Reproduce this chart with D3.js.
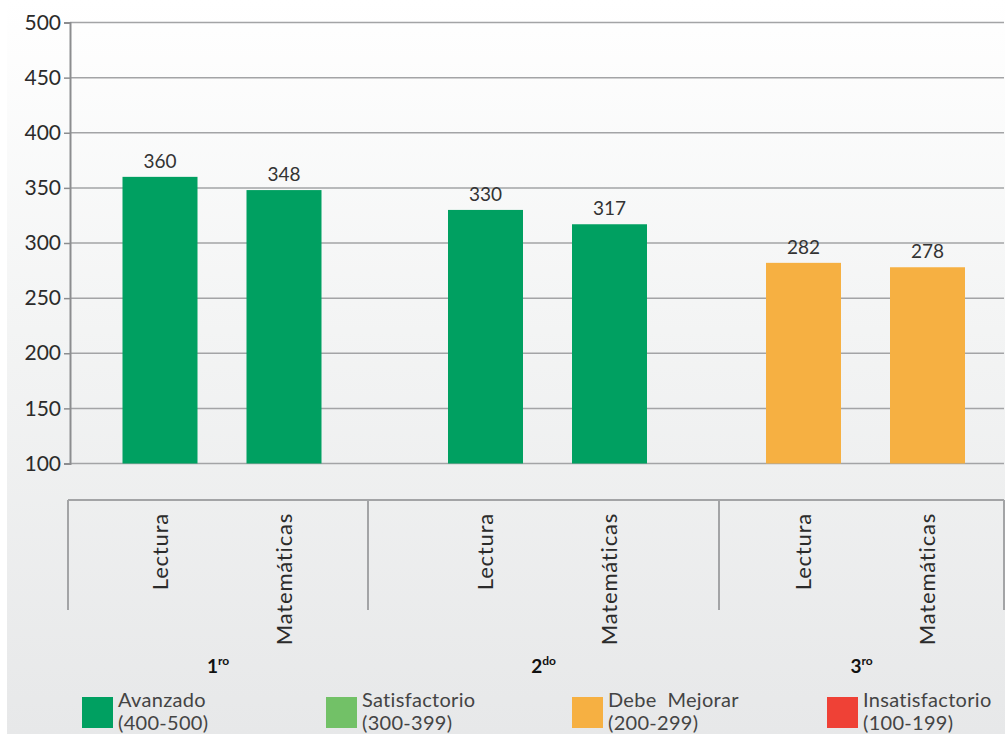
<!DOCTYPE html>
<html>
<head>
<meta charset="utf-8">
<script src="https://cdn.jsdelivr.net/npm/d3@7"></script>
<style>
  html, body { margin: 0; padding: 0; background: #fff; }
  svg { display: block; font-family: Lato, "Open Sans", sans-serif; }
</style>
</head>
<body>
<svg id="chart" width="1005" height="734"></svg>
<script>
// Grades and subjects
const grades = ["1", "2", "3"];
const gradeSuffix = ["ro", "do", "ro"];
const subjects = ["Lectura", "Matemáticas"];

// Average score for each grade/subject, in the order of grades x subjects
const scores = [360, 348, 330, 317, 282, 278];
// Performance level used to colour each bar
const barLevels = ["Avanzado", "Avanzado", "Avanzado", "Avanzado", "Debe Mejorar", "Debe Mejorar"];

// Y axis ticks
const yTicks = [100, 150, 200, 250, 300, 350, 400, 450, 500];

// Legend levels
const levels = ["Avanzado", "Satisfactorio", "Debe Mejorar", "Insatisfactorio"];
const levelRanges = ["(400-500)", "(300-399)", "(200-299)", "(100-199)"];
const levelColors = ["#00a061", "#72c167", "#f6b042", "#ef4136"];

const svg = d3.select("#chart");
const W = 1005, H = 734;

// Background: white top fading to light grey
const defs = svg.append("defs");
const grad = defs.append("linearGradient").attr("id", "bg").attr("x1", 0).attr("y1", 0).attr("x2", 0).attr("y2", 1);
grad.append("stop").attr("offset", "0%").attr("stop-color", "#ffffff");
grad.append("stop").attr("offset", "45%").attr("stop-color", "#f3f4f4");
grad.append("stop").attr("offset", "100%").attr("stop-color", "#e7e8e9");
svg.append("rect").attr("x", 7).attr("y", 0).attr("width", W - 7).attr("height", H).attr("fill", "url(#bg)");

const color = d3.scaleOrdinal().domain(levels).range(levelColors);

// Scales
const y = d3.scaleLinear().domain([100, 500]).range([463.5, 22.5]);
// group boundaries along the category axis
const gx = d3.scaleLinear().domain([0, 1, 2, 3]).range([68, 368, 719, 1004]);
// subject offset from the middle of its group, in pixels
const sx = d3.scalePoint().domain(subjects).range([-58, 66]);
const barW = 75;

const bars = [];
grades.forEach((g, gi) => subjects.forEach((s, si) => {
  const i = gi * subjects.length + si;
  bars.push({ g, gi, s, value: scores[i], level: barLevels[i] });
}));
const mid = gi => (gx(gi) + gx(gi + 1)) / 2;
const cx = d => mid(d.gi) + sx(d.s);

// Gridlines
svg.append("g").selectAll("line").data(yTicks).join("line")
  .attr("x1", 70).attr("x2", 1004)
  .attr("y1", d => y(d)).attr("y2", d => y(d))
  .attr("stroke", "#a3a4a6").attr("stroke-width", 1.5);

// Y axis
const yAxis = svg.append("g").attr("transform", "translate(70,0)")
  .call(d3.axisLeft(y).tickValues(yTicks).tickSize(6).tickPadding(3).tickFormat(d3.format("d")));
yAxis.select(".domain").attr("stroke", "#8c8d8f").attr("stroke-width", 2);
yAxis.selectAll(".tick line").attr("stroke", "#8c8d8f").attr("stroke-width", 1.5);
yAxis.selectAll(".tick text").attr("font-size", 21).attr("fill", "#2b2b2b")
  .attr("font-family", "Lato, sans-serif");

// Bars
svg.append("g").selectAll("rect").data(bars).join("rect")
  .attr("x", d => cx(d) - barW / 2)
  .attr("width", barW)
  .attr("y", d => y(d.value))
  .attr("height", d => y(100) - y(d.value))
  .attr("fill", d => color(d.level));

// Value labels
svg.append("g").selectAll("text").data(bars).join("text")
  .attr("x", d => cx(d))
  .attr("y", d => y(d.value) - 9)
  .attr("text-anchor", "middle")
  .attr("font-size", 19).attr("fill", "#333")
  .text(d => d.value);

// Category frame
const frameTop = 500, frameBottom = 610;
svg.append("line").attr("x1", gx(0)).attr("x2", gx(3)).attr("y1", frameTop).attr("y2", frameTop)
  .attr("stroke", "#a3a4a6").attr("stroke-width", 2);
svg.append("g").selectAll("line").data([0, 1, 2, 3]).join("line")
  .attr("x1", d => gx(d)).attr("x2", d => gx(d))
  .attr("y1", frameTop).attr("y2", frameBottom)
  .attr("stroke", "#a3a4a6").attr("stroke-width", 2);

// Subject labels (rotated)
svg.append("g").selectAll("text").data(bars).join("text")
  .attr("transform", d => `translate(${cx(d)},513) rotate(-90)`)
  .attr("text-anchor", "end")
  .attr("dy", "0.35em")
  .attr("font-size", 22).attr("letter-spacing", 0.8).attr("fill", "#2b2b2b")
  .text(d => d.s);

// Grade labels with superscript
const gradeG = svg.append("g").selectAll("text").data(grades).join("text")
  .attr("x", (g, gi) => mid(gi) + (sx(subjects[0]) + sx(subjects[1])) / 2 - 4)
  .attr("y", 673)
  .attr("text-anchor", "middle")
  .attr("font-size", 19).attr("font-weight", "bold").attr("fill", "#111");
gradeG.append("tspan").text(d => d);
gradeG.append("tspan").attr("font-size", 12).attr("dy", -8).text((d, i) => gradeSuffix[i]);

// Legend
const legendX = d3.scaleOrdinal().domain(levels).range([82, 326, 572, 827]);
const lg = svg.append("g").selectAll("g").data(levels).join("g")
  .attr("transform", d => `translate(${legendX(d)},697)`);
lg.append("rect").attr("width", 31).attr("height", 31).attr("fill", d => color(d));
const lt = lg.append("text").attr("font-size", 20).attr("letter-spacing", 0.3).attr("fill", "#444");
lt.append("tspan").attr("x", 36).attr("y", 10).text(d => d === "Debe Mejorar" ? "Debe\u00a0 Mejorar" : d);
lt.append("tspan").attr("x", 36).attr("y", 33).text((d, i) => levelRanges[i]);
</script>
</body>
</html>
